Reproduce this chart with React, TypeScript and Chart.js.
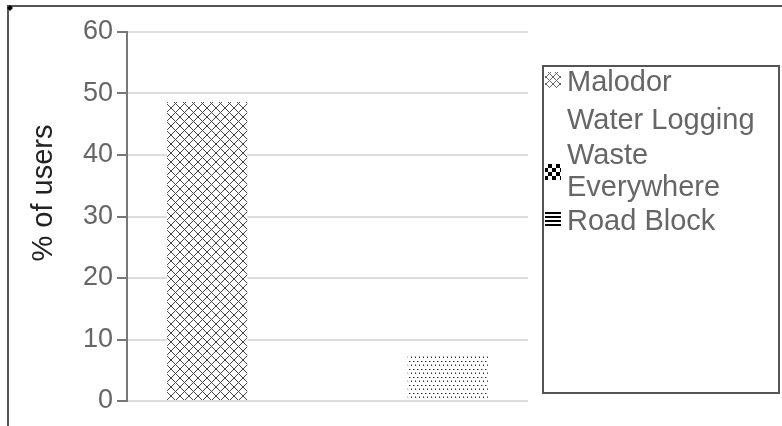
import React, { useEffect, useRef } from "react";
import { Chart, registerables } from "chart.js";

Chart.register(...registerables);

const categories = [""];
const seriesNames = ["Malodor", "Water Logging", "Waste Everywhere", "Road Block"];
const seriesValues = [48.6, 0, 0, 7.3];
const legendLines = [["Malodor"], ["Water Logging"], ["Waste", "Everywhere"], ["Road Block"]];
const yMin = 0;
const yMax = 60;
const yStep = 10;
const yTitle = "% of users";

const FONT = "'Liberation Sans', Arial, sans-serif";

function makeTile(w: number, h: number, draw: (c: CanvasRenderingContext2D) => void) {
  const cv = document.createElement("canvas");
  cv.width = w;
  cv.height = h;
  const c = cv.getContext("2d")!;
  c.fillStyle = "#fff";
  c.fillRect(0, 0, w, h);
  draw(c);
  return cv;
}

function crossTile(size: number, color: string) {
  return makeTile(size, size, (c) => {
    c.strokeStyle = color;
    c.lineWidth = 1;
    c.beginPath();
    c.moveTo(0, 0);
    c.lineTo(size, size);
    c.moveTo(size, 0);
    c.lineTo(0, size);
    c.stroke();
  });
}

function dotTile() {
  return makeTile(8, 8, (c) => {
    c.fillStyle = "#333";
    const pts = [[1, 1], [5, 1], [3, 5], [7, 5]];
    pts.forEach(([x, y]) => c.fillRect(x, y, 1, 1));
    c.fillStyle = "#999";
    const pts2 = [[2, 1], [6, 1], [3, 4], [7, 4]];
    pts2.forEach(([x, y]) => c.fillRect(x, y, 1, 1));
  });
}

function checkerTile() {
  return makeTile(8, 8, (c) => {
    c.fillStyle = "#000";
    c.fillRect(0, 0, 4, 4);
    c.fillRect(4, 4, 4, 4);
  });
}

function hlineTile() {
  return makeTile(4, 4, (c) => {
    c.fillStyle = "#000";
    c.fillRect(0, 0, 4, 2);
  });
}

export default function App() {
  const ref = useRef<HTMLCanvasElement | null>(null);

  useEffect(() => {
    const canvas = ref.current!;
    const ctx = canvas.getContext("2d")!;
    const pCross = ctx.createPattern(crossTile(9, "#444"), "repeat")!;
    const pDots = ctx.createPattern(dotTile(), "repeat")!;
    const pCheck = ctx.createPattern(checkerTile(), "repeat")!;
    const pLines = ctx.createPattern(hlineTile(), "repeat")!;
    const pCrossSmall = ctx.createPattern(crossTile(7, "#666"), "repeat")!;

    const barFills: (CanvasPattern | string)[] = [pCross, "#ffffff", pCheck, pDots];
    const legendFills: (CanvasPattern | string | null)[] = [pCrossSmall, null, pCheck, pLines];

    const decor = {
      id: "decor",
      afterDraw(chart: any) {
        const c = chart.ctx as CanvasRenderingContext2D;
        c.save();
        // outer frame
        c.strokeStyle = "#555";
        c.lineWidth = 2;
        c.beginPath();
        c.moveTo(8, 430);
        c.lineTo(8, 6);
        c.lineTo(790, 6);
        c.stroke();
        c.fillStyle = "#000";
        c.beginPath();
        c.moveTo(10, 5);
        c.lineTo(13, 8);
        c.lineTo(10, 11);
        c.lineTo(7, 8);
        c.closePath();
        c.fill();

        // y-axis title
        c.save();
        c.translate(52, 193);
        c.rotate(-Math.PI / 2);
        c.font = `29px ${FONT}`;
        c.fillStyle = "#222";
        c.textAlign = "center";
        c.textBaseline = "alphabetic";
        c.fillText(yTitle, 0, 0);
        c.restore();

        // legend box
        c.strokeStyle = "#555";
        c.lineWidth = 2;
        c.strokeRect(543, 66, 236, 327);

        c.font = `29px ${FONT}`;
        c.textBaseline = "alphabetic";
        const baselines = [[91], [129], [164, 196], [230]];
        legendLines.forEach((lines, i) => {
          lines.forEach((t, j) => {
            c.fillStyle = "#666";
            c.fillText(t, 567, baselines[i][j]);
          });
          const fill = legendFills[i];
          if (fill) {
            const top = i === 2 ? 164 : baselines[i][0] - 19;
            c.fillStyle = fill as any;
            c.fillRect(545, top, 16, 16);
          }
        });
        c.restore();
      },
    };

    const chart = new Chart(canvas, {
      type: "bar",
      data: {
        labels: categories,
        datasets: seriesNames.map((name, i) => ({
          label: name,
          data: [seriesValues[i]],
          backgroundColor: barFills[i] as any,
          borderWidth: 0,
          categoryPercentage: 0.8,
          barPercentage: 1.0,
        })),
      },
      options: {
        animation: false,
        responsive: false,
        devicePixelRatio: 1,
        layout: { padding: { left: 25, top: 32, right: 254, bottom: 25 } },
        plugins: { legend: { display: false }, tooltip: { enabled: false } },
        scales: {
          x: { display: false },
          y: {
            min: yMin,
            max: yMax,
            afterFit: (s: any) => {
              s.width = 102;
            },
            ticks: {
              stepSize: yStep,
              color: "#666",
              padding: 4,
              font: { size: 27, family: FONT },
            },
            grid: {
              color: "#dddddd",
              lineWidth: 2,
              tickLength: 10,
              tickColor: "#777",
              drawTicks: true,
            },
            border: { display: true, color: "#777", width: 2 },
            title: { display: false },
          },
        },
      },
      plugins: [decor],
    });
    return () => chart.destroy();
  }, []);

  return (
    <div style={{ position: "fixed", left: 0, top: 0, width: 782, height: 426, background: "#fff" }}>
      <canvas ref={ref} width={782} height={426} style={{ display: "block" }} />
    </div>
  );
}
